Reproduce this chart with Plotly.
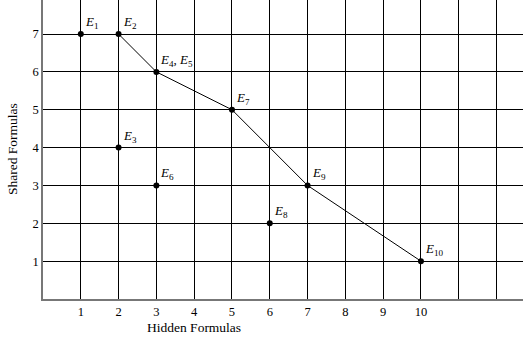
import plotly.graph_objects as go

# all points
pt_x = [1, 2, 2, 3, 3, 5, 6, 7, 10]
pt_y = [7, 7, 4, 6, 3, 5, 2, 3, 1]
pt_labels = ["E<sub>1</sub>", "E<sub>2</sub>", "E<sub>3</sub>", "E<sub>4</sub>, E<sub>5</sub>",
             "E<sub>6</sub>", "E<sub>7</sub>", "E<sub>8</sub>", "E<sub>9</sub>", "E<sub>10</sub>"]

# frontier line
front_x = [2, 3, 5, 7, 10]
front_y = [7, 6, 5, 3, 1]

x_ticks = list(range(1, 13))
x_ticktext = [str(v) if v <= 10 else "" for v in x_ticks]
y_ticks = list(range(1, 8))

serif = "Liberation Serif, DejaVu Serif, serif"

fig = go.Figure()
fig.add_trace(go.Scatter(x=front_x, y=front_y, mode="lines",
                         line=dict(color="black", width=1), showlegend=False))
fig.add_trace(go.Scatter(x=pt_x, y=pt_y, mode="markers",
                         marker=dict(color="black", size=6), showlegend=False))

for x, y, t in zip(pt_x, pt_y, pt_labels):
    t = t.replace("E<", "<i>E</i><")
    fig.add_annotation(x=x, y=y, text=t, showarrow=False, xanchor="left", yanchor="bottom",
                       xshift=2, yshift=1, font=dict(family=serif, size=13, color="black"))

fig.add_annotation(x=4, y=0, yref="y", text="Hidden Formulas", showarrow=False,
                   yanchor="top", yshift=-19, font=dict(family=serif, size=13.5, color="black"))
fig.add_annotation(x=0, xref="paper", y=3.95, yref="y", text="Shared Formulas", showarrow=False,
                   textangle=-90, xanchor="right", xshift=-21,
                   font=dict(family=serif, size=13.5, color="black"))

fig.update_layout(
    width=523, height=339,
    paper_bgcolor="white", plot_bgcolor="white",
    margin=dict(l=43, r=0, t=0, b=40),
    font=dict(family=serif, size=12.5, color="black"),
    xaxis=dict(range=[0, 12.7], tickvals=x_ticks, ticktext=x_ticktext,
               showgrid=True, gridcolor="black", gridwidth=1, zeroline=False,
               showline=True, linecolor="#777", linewidth=1.5, ticks=""),
    yaxis=dict(range=[0, 7.9], tickvals=y_ticks, automargin=False,
               showgrid=True, gridcolor="black", gridwidth=1, zeroline=False,
               showline=True, linecolor="#777", linewidth=1.5, ticks=""),
)

fig.write_html("out.html", config={"displayModeBar": False},
               post_script="document.body.style.margin='0';")
